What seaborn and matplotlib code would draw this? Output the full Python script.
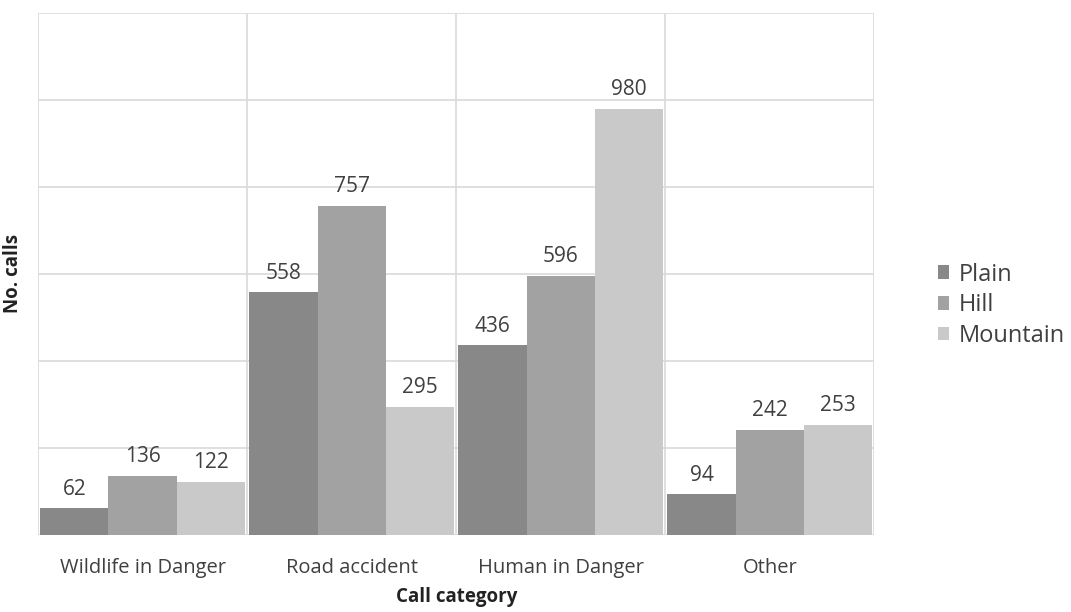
import matplotlib
matplotlib.use("Agg")
import matplotlib.pyplot as plt
import seaborn as sns
import pandas as pd
from matplotlib.ticker import MultipleLocator

# Data
categories = ["Wildlife in Danger", "Road accident", "Human in Danger", "Other"]
terrains = ["Plain", "Hill", "Mountain"]
plain = [62, 558, 436, 94]
hill = [136, 757, 596, 242]
mountain = [122, 295, 980, 253]

colors = ["#888888", "#a2a2a2", "#c9c9c9"]

rows = []
for terrain, values in zip(terrains, [plain, hill, mountain]):
    for cat, v in zip(categories, values):
        rows.append({"Call category": cat, "Terrain": terrain, "No. calls": v})
df = pd.DataFrame(rows)

sns.set_theme(style="white")
plt.rcParams["font.family"] = ["Open Sans", "DejaVu Sans"]
text_color = "#404040"

fig = plt.figure(figsize=(10.71, 6.12), dpi=100)
ax = fig.add_axes([0.0355, 0.126, 0.781, 0.853])

sns.barplot(data=df, x="Call category", y="No. calls", hue="Terrain",
            hue_order=terrains, palette=colors, width=0.98, saturation=1,
            linewidth=0, ax=ax, zorder=3)

for container in ax.containers:
    ax.bar_label(container, padding=6, fontsize=15, color=text_color)

ax.set_ylim(0, 1200)
ax.set_xlim(-0.5, len(categories) - 0.5)
ax.yaxis.set_major_locator(MultipleLocator(200))
ax.set_yticklabels([])
ax.tick_params(axis="y", length=0)
ax.set_xticks([i - 0.5 for i in range(len(categories) + 1)], minor=True)
ax.tick_params(axis="x", which="both", length=0, labelsize=14.5,
               labelcolor=text_color, pad=17)
ax.grid(axis="y", which="major", color="#d9d9d9", lw=1.2, zorder=0)
ax.grid(axis="x", which="minor", color="#d9d9d9", lw=1.2, zorder=0)
ax.grid(axis="x", which="major", visible=False)
for side in ax.spines.values():
    side.set_visible(False)

ax.set_xlabel("Call category", fontsize=13.5, fontweight="bold", color="#222222", labelpad=6)
ax.set_ylabel("No. calls", fontsize=13.5, fontweight="bold", color="#222222", labelpad=7)

ax.legend(title=None, frameon=False, loc="center left",
          bbox_to_anchor=(1.05, 0.44), fontsize=17, handlelength=0.5,
          handleheight=0.5, handletextpad=0.4, labelspacing=0.28,
          labelcolor=text_color)

fig.savefig("out.png", dpi=100)
